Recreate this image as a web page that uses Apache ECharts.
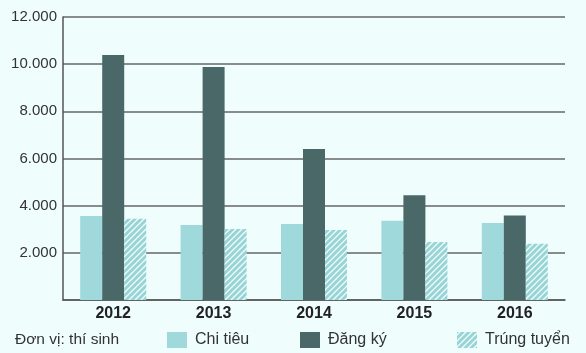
<!DOCTYPE html>
<html><head><meta charset="utf-8">
<script src="https://cdn.jsdelivr.net/npm/echarts@6/dist/echarts.min.js"></script>
<style>html,body{margin:0;padding:0;background:#effdfd}#c{width:586px;height:353px}</style>
</head><body><div id="c"></div>
<script>
const years = ['2012','2013','2014','2015','2016'];
const chiTieu = [3560, 3180, 3220, 3360, 3270];
const dangKy = [10390, 9880, 6400, 4440, 3580];
const trungTuyen = [3440, 3010, 2970, 2460, 2390];
const yTicks = [0, 2000, 4000, 6000, 8000, 10000, 12000];

function hatch(){
  const c = document.createElement('canvas');
  c.width = 6; c.height = 6;
  const g = c.getContext('2d');
  g.fillStyle = '#f4fdfd'; g.fillRect(0,0,6,6);
  g.strokeStyle = '#96d4d6'; g.lineWidth = 3;
  g.beginPath();
  g.moveTo(-1,1); g.lineTo(1,-1);
  g.moveTo(0,6); g.lineTo(6,0);
  g.moveTo(5,7); g.lineTo(7,5);
  g.stroke();
  return c;
}
const pat = {image: hatch(), repeat: 'repeat'};
const font = 'Liberation Sans, Arial, sans-serif';
const chart = echarts.init(document.getElementById('c'));
const legBase = {orient:'horizontal', top: 332, padding: 0, itemWidth: 20, itemHeight: 16, itemGap: 8, icon: 'rect',
  textStyle:{fontFamily:font, fontSize:16, color:'#333', padding:[0,0,0,3]}, selectedMode:false};
chart.setOption({
  backgroundColor: '#effdfd',
  animation: false,
  textStyle: {fontFamily: font},
  grid: {left: 63, right: 21, top: 17, bottom: 53},
  legend: [
    Object.assign({}, legBase, {left: 167, data: ['Chi tiêu']}),
    Object.assign({}, legBase, {left: 300, data: ['Đăng ký']}),
    Object.assign({}, legBase, {left: 457, data: ['Trúng tuyển']})
  ],
  graphic: [{type:'text', left: 15, top: 332, style:{text:'Đơn vị: thí sinh', font:'15.5px ' + font, fill:'#333'}}],
  xAxis: {type:'category', data: years,
    axisLine:{show:true, lineStyle:{color:'#555', width:1.5}}, axisTick:{show:false},
    axisLabel:{fontFamily:font, fontSize:16, fontWeight:'bold', color:'#222', margin:6}},
  yAxis: {type:'value', min: yTicks[0], max: yTicks[yTicks.length-1], interval: 2000,
    axisLine:{show:true, lineStyle:{color:'#555', width:1.5}}, axisTick:{show:false},
    splitLine:{lineStyle:{color:'#666', width:1.5}},
    axisLabel:{fontFamily:font, fontSize:15, color:'#333', margin:6,
      formatter: v => v === 0 ? '' : v.toLocaleString('de-DE')}},
  series: [
    {name:'Chi tiêu', type:'bar', data: chiTieu, barWidth: 22, barGap: '0%', itemStyle:{color:'#9fd9db'}},
    {name:'Đăng ký', type:'bar', data: dangKy, barWidth: 22, barGap: '0%', itemStyle:{color:'#4a6868'}},
    {name:'Trúng tuyển', type:'bar', data: trungTuyen, barWidth: 22, barGap: '0%', itemStyle:{color: pat}}
  ]
});
</script></body></html>
